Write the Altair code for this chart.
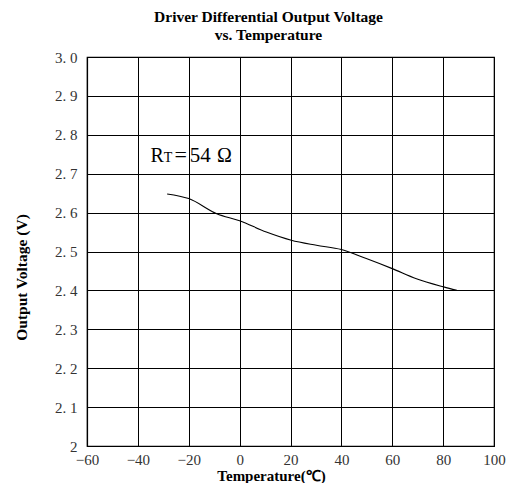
import altair as alt
import pandas as pd

# Curve (temperature in °C, output voltage in V)
temps = [-28.5, -20, -9, 0, 10.5, 20.3, 30.2, 40, 49.8, 60, 69.5, 80.2, 85.4]
volts = [2.648, 2.636, 2.597, 2.579, 2.550, 2.529, 2.516, 2.505, 2.482, 2.456, 2.430, 2.409, 2.400]

x_ticks = [-60, -40, -20, 0, 20, 40, 60, 80, 100]
y_ticks = [2.0, 2.1, 2.2, 2.3, 2.4, 2.5, 2.6, 2.7, 2.8, 2.9, 3.0]

# Annotation "RT=54 Ω" (R large, T small), anchored in data coordinates
ann_text = ["R", "T", "=", "54", "Ω"]
ann_x = [-35.0, -29.85, -25.6, -19.6, -8.9]
ann_y = [2.729, 2.729, 2.729, 2.729, 2.729]
ann_size = [20, 14, 22, 21, 20]

df = pd.DataFrame({"t": temps, "v": volts})
ann = pd.DataFrame({"text": ann_text, "t": ann_x, "v": ann_y, "s": ann_size})

SERIF = "Liberation Serif"

xs = alt.Scale(domain=[-60, 100], nice=False, zero=False)
ys = alt.Scale(domain=[2.0, 3.0], nice=False, zero=False)

x_axis = alt.Axis(
    values=x_ticks, grid=True, gridColor="black", gridOpacity=1, gridWidth=1,
    ticks=False, domain=True, domainColor="black", domainWidth=1.2,
    labelFont=SERIF, labelFontSize=15, labelColor="#333", labelPadding=6,
    labelFlush=False, labelOverlap=False,
    title="Temperature(℃)", titleFont=SERIF, titleFontSize=15, titleFontWeight="bold",
    titleColor="black", titleX=184, titleY=29.5, titleBaseline="middle",
)
y_axis = alt.Axis(
    values=y_ticks, grid=True, gridColor="black", gridOpacity=1, gridWidth=1,
    ticks=False, domain=True, domainColor="black", domainWidth=1.2,
    labelFont=SERIF, labelFontSize=15, labelColor="#333", labelPadding=10,
    labelFlush=False, labelOverlap=False,
    labelExpr="datum.value == 2 ? '2' : replace(format(datum.value, '.1f'), '.', '. ')",
    title="Output Voltage (V)", titleFont=SERIF, titleFontSize=15.5, titleFontWeight="bold",
    titleColor="black", titleX=-66, titleY=220, titleBaseline="middle",
)

X = alt.X("t:Q", scale=xs, axis=x_axis)
Y = alt.Y("v:Q", scale=ys, axis=y_axis)

line = alt.Chart(df).mark_line(color="black", strokeWidth=1.1, interpolate="monotone").encode(
    x=X, y=Y,
)

text = alt.Chart(ann).mark_text(font=SERIF, align="left", baseline="alphabetic", color="black").encode(
    x=X, y=Y,
    text="text:N",
    size=alt.Size("s:Q", scale=None, legend=None),
)

chart = (line + text).properties(
    width=407, height=389,
    autosize=alt.AutoSizeParams(type="none"),
    padding={"left": 79, "top": 49, "right": 16, "bottom": 37},
    title=alt.TitleParams(
        text=["Driver Differential Output Voltage", "vs. Temperature"],
        font=SERIF, fontSize=15.5, fontWeight="bold", color="black",
        anchor="middle", dx=-22, offset=6.5, lineHeight=18,
    ),
).configure_view(stroke="black", strokeWidth=1.2)

chart.save("out.html", embed_options={"renderer": "svg", "actions": False})
